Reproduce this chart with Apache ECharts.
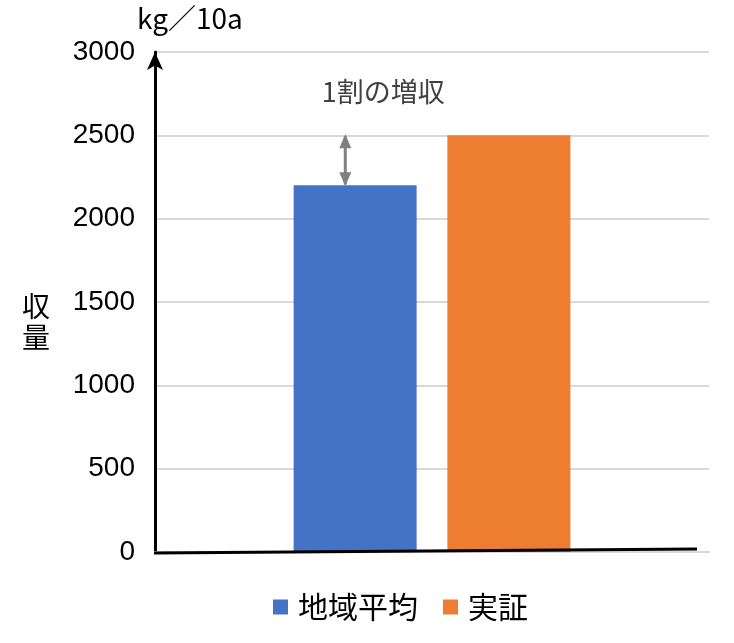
<!DOCTYPE html>
<html>
<head>
<meta charset="utf-8">
<script src="https://cdn.jsdelivr.net/npm/echarts@6/dist/echarts.min.js"></script>
<style>
  html, body { margin: 0; padding: 0; background: #fff; }
  #chart { width: 734px; height: 643px; }
</style>
</head>
<body>
<div id="chart"></div>
<script>
const categories = [""];
const seriesNames = ["地域平均", "実証"];
const seriesValues = [[2200], [2500]];
const colorList = ["#4472C4", "#ED7D31"];
const yTicks = { min: 0, max: 3000, interval: 500 };
const unitLabel = "kg／10a";
const yName = "収\n量";
const noteText = "1割の増収";

const FONT = "'Noto Sans CJK JP', 'Noto Sans', sans-serif";

const myChart = echarts.init(document.getElementById("chart"));
myChart.setOption({
  animation: false,
  textStyle: { fontFamily: FONT },
  grid: { left: 155, right: 25, top: 52, bottom: 91 },
  legend: {
    bottom: 16,
    left: 268,
    icon: "rect",
    itemWidth: 15,
    itemHeight: 15,
    itemGap: 25,
    textStyle: {
      fontSize: 30,
      color: "#000",
      fontFamily: FONT,
      padding: [0, 0, 0, 5],
    },
    data: seriesNames,
  },
  xAxis: {
    type: "category",
    data: categories,
    axisTick: { show: false },
    axisLabel: { show: false },
    axisLine: { lineStyle: { color: "#d9d9d9", width: 2 } },
  },
  yAxis: {
    type: "value",
    min: yTicks.min,
    max: yTicks.max,
    interval: yTicks.interval,
    axisLabel: {
      color: "#000",
      fontSize: 28,
      margin: 20,
      fontFamily: "'Liberation Sans', Arial, sans-serif",
      formatter: (v) => String(v),
    },
    axisLine: {
      show: true,
      symbol: ["none", "arrow"],
      symbolSize: [12, 18],
      lineStyle: { color: "#000", width: 3 },
    },
    splitLine: { lineStyle: { color: "#d9d9d9", width: 2 } },
  },
  series: seriesNames.map((name, i) => ({
    name: name,
    type: "bar",
    data: seriesValues[i],
    barWidth: 123,
    barGap: "25%",
    itemStyle: { color: colorList[i] },
  })),
});

// 注釈（矢印・テキスト・横軸の黒線）はスケールから位置を計算
const blueLayout = myChart.getModel().getSeriesByIndex(0).getData().getItemLayout(0);
const arrowX = blueLayout.x + blueLayout.width * 0.42;
const yLow = myChart.convertToPixel({ yAxisIndex: 0 }, seriesValues[0][0]);
const yHigh = myChart.convertToPixel({ yAxisIndex: 0 }, seriesValues[1][0]);
const yZero = myChart.convertToPixel({ yAxisIndex: 0 }, 0);
const yTop = myChart.convertToPixel({ yAxisIndex: 0 }, yTicks.max);

myChart.setOption({
  graphic: [
    {
      type: "line",
      shape: { x1: arrowX, y1: yLow - 2, x2: arrowX, y2: yHigh + 2 },
      style: { stroke: "#808080", lineWidth: 3, lineCap: "round" },
      z: 100,
    },
    {
      type: "polygon",
      shape: { points: [[arrowX, yHigh - 1], [arrowX - 6, yHigh + 13], [arrowX + 6, yHigh + 13]] },
      style: { fill: "#808080" },
      z: 100,
    },
    {
      type: "polygon",
      shape: { points: [[arrowX, yLow + 1], [arrowX - 6, yLow - 13], [arrowX + 6, yLow - 13]] },
      style: { fill: "#808080" },
      z: 100,
    },
    {
      type: "text",
      x: arrowX + 38,
      y: yHigh - 44,
      style: {
        text: noteText,
        fill: "#404040",
        fontSize: 27,
        fontFamily: FONT,
        align: "center",
        verticalAlign: "middle",
      },
      z: 100,
    },
    {
      type: "line",
      shape: { x1: 154, y1: yZero + 1, x2: 697, y2: yZero - 3 },
      style: { stroke: "#000", lineWidth: 3 },
      z: 100,
    },
    {
      type: "text",
      x: 137,
      y: yTop - 34,
      style: {
        text: unitLabel,
        fill: "#000",
        fontSize: 28,
        fontFamily: FONT,
        align: "left",
        verticalAlign: "middle",
      },
      z: 100,
    },
    {
      type: "text",
      x: 36,
      y: 322,
      style: {
        text: yName,
        fill: "#000",
        fontSize: 28,
        lineHeight: 31,
        fontFamily: FONT,
        align: "center",
        verticalAlign: "middle",
      },
      z: 100,
    },
  ],
});
</script>
</body>
</html>
